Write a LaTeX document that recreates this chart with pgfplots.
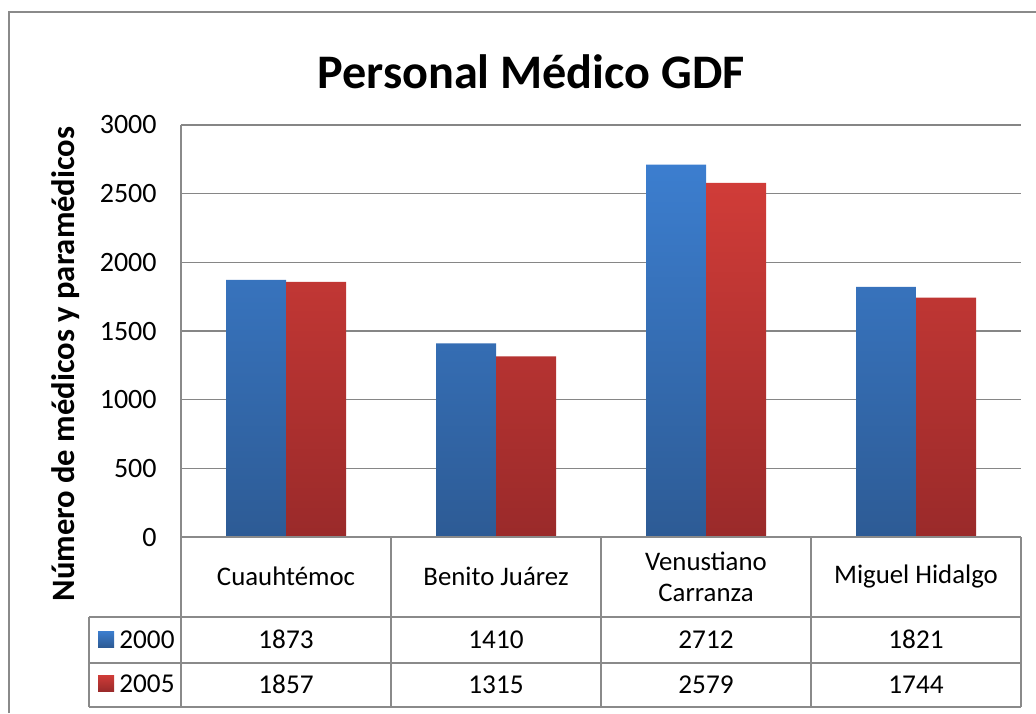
\documentclass[border=0pt]{standalone}
\usepackage{fontspec}
\setmainfont{Carlito}
\usepackage{pgfplots}
\pgfplotsset{compat=1.18}
\definecolor{blueT}{HTML}{3C7ECF}
\definecolor{blueB}{HTML}{2D5B95}
\definecolor{redT}{HTML}{D03C38}
\definecolor{redB}{HTML}{9A2A2A}
\definecolor{gridgray}{HTML}{868686}
\definecolor{framegray}{HTML}{8A8A8A}

\begin{document}
\begin{tikzpicture}
% canvas = 1036 x 713 px, 1 px = 0.5pt
\useasboundingbox (0,0) rectangle (518pt,-356.5pt);
\begin{axis}[
  at={(90.5pt,-268.5pt)}, anchor=south west,
  scale only axis, width=420pt, height=206pt,
  xmin=-0.5, xmax=3.5, ymin=0, ymax=3000,
  ytick={0,500,...,3000},
  xtick={0,1,2,3},
  xticklabels={Cuauhtémoc,Benito Juárez,{Venustiano\\Carranza},Miguel Hidalgo},
  xticklabel style={align=center, anchor=center, yshift=-15.5pt,
    font=\fontsize{13.4}{15.5}\selectfont},
  yticklabel style={font=\fontsize{14}{16}\selectfont, inner sep=0pt, anchor=east, xshift=-12pt},
  /pgf/number format/assume math mode=true,
  /pgf/number format/1000 sep={},
  ymajorgrids, grid style={draw=gridgray, line width=0.8pt},
  axis line style={draw=none}, tick style={draw=none},
  ybar=0pt, bar width=0.2857,
  clip=false]
\addplot[draw=none, top color=blueT, bottom color=blueB]
  coordinates {(0,1873) (1,1410) (2,2712) (3,1821)};
\addplot[draw=none, top color=redT, bottom color=redB]
  coordinates {(0,1857) (1,1315) (2,2579) (3,1744)};
\end{axis}

\begin{scope}[x=0.5pt, y=-0.5pt]
  % outer chart frame (cut off at right and bottom)
  \draw[framegray, line width=1pt] (9,713) -- (9,12) -- (1036,12);
  % title and y label
  \node[anchor=base, font=\fontsize{24.1}{28}\selectfont\bfseries] at (531,88) {Personal Médico GDF};
  \node[rotate=90, font=\fontsize{16.3}{20}\selectfont\bfseries] at (66,364) {Número de médicos y paramédicos};
  % axis line and data table
  \begin{scope}[framegray, line width=1pt]
    \draw (181,125) -- (181,707);
    \draw (181,537) -- (1021,537);
    \draw (89,617) -- (1021,617);
    \draw (89,663) -- (1021,663);
    \draw (89,707) -- (1021,707);
    \draw (89,617) -- (89,707);
    \foreach \xx in {391,601,811,1021} \draw (\xx,537) -- (\xx,707);
  \end{scope}
  % legend keys
  \shade[top color=blueT, bottom color=blueB] (98,631) rectangle (114,647);
  \shade[top color=redT, bottom color=redB] (98,675) rectangle (114,691);
  \begin{scope}[font=\fontsize{13.6}{15}\selectfont, every node/.style={anchor=base, inner sep=0pt}]
    \node[anchor=base west] at (119,648) {2000};
    \node[anchor=base west] at (119,692) {2005};
    \node at (286,648) {1873}; \node at (496,648) {1410};
    \node at (706,648) {2712}; \node at (916,648) {1821};
    \node at (286,693) {1857}; \node at (496,693) {1315};
    \node at (706,693) {2579}; \node at (916,693) {1744};
  \end{scope}
\end{scope}
\end{tikzpicture}
\end{document}
